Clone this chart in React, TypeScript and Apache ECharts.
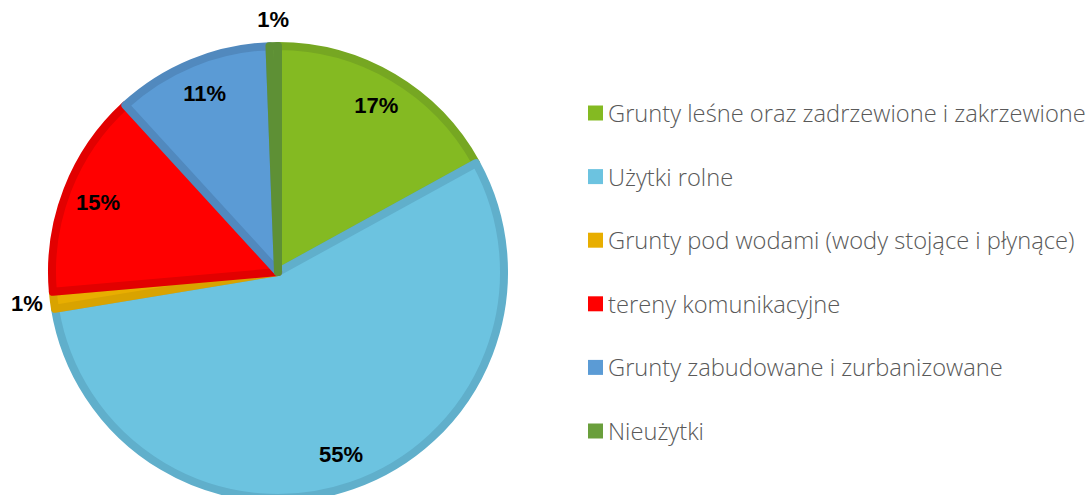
import React, { useEffect, useRef } from "react";
import * as echarts from "echarts";

const categories = [
  "Grunty leśne oraz zadrzewione i zakrzewione",
  "Użytki rolne",
  "Grunty pod wodami (wody stojące i płynące)",
  "tereny komunikacyjne",
  "Grunty zabudowane i zurbanizowane",
  "Nieużytki",
];
const values = [17.0, 55.4, 1.2, 14.6, 11.2, 0.6];
const fillColors = ["#84BA22", "#6CC3E0", "#E8AE00", "#FF0000", "#5B9BD5", "#6A9F3C"];
const borderColors = ["#76A722", "#60AFCB", "#D9A300", "#E20000", "#5189BE", "#5E9035"];

const CX = 278;
const CY = 272;
const R = 230;

export default function App() {
  const ref = useRef<HTMLDivElement>(null);
  useEffect(() => {
    document.body.style.margin = "0";
    const chart = echarts.init(ref.current!, null, { renderer: "svg" });
    const mainData = categories.map((name, i) => ({
      name,
      value: values[i],
      itemStyle: { color: fillColors[i], borderColor: borderColors[i] },
    }));
    const overlayData = categories.map((name, i) => ({
      name,
      value: values[i],
      itemStyle: { color: "rgba(0,0,0,0)", borderWidth: 0 },
    }));
    const labelStyle = {
      color: "#000",
      fontFamily: "Liberation Sans, Arial, sans-serif",
      fontWeight: "bold" as const,
      fontSize: 22,
    };
    chart.setOption({
      animation: false,
      legend: {
        orient: "vertical",
        left: 588,
        top: 99.5,
        padding: 0,
        itemWidth: 15,
        itemHeight: 15,
        itemGap: 36.6,
        icon: "rect",
        data: categories,
        selectedMode: false,
        itemStyle: { borderWidth: 0 },
        textStyle: {
          color: "#595959",
          fontFamily: "Open Sans, sans-serif",
          fontWeight: 300,
          fontSize: 23.7,
          lineHeight: 27,
        },
      },
      series: [
        {
          type: "pie",
          center: [CX, CY],
          radius: [0, R - 4],
          startAngle: 90,
          clockwise: true,
          silent: true,
          itemStyle: { borderWidth: 8, borderJoin: "round" },
          label: { show: false },
          labelLine: { show: false },
          data: mainData,
        },
        {
          type: "pie",
          center: [CX, CY],
          radius: [150, R],
          startAngle: 90,
          clockwise: true,
          silent: true,
          label: {
            show: true,
            position: "inside",
            ...labelStyle,
            formatter: (p: any) => (p.value >= 5 ? `${Math.round(p.percent)}%` : ""),
          },
          labelLine: { show: false },
          data: overlayData,
        },
        {
          type: "pie",
          center: [CX, CY],
          radius: [R, 270],
          startAngle: 90,
          clockwise: true,
          silent: true,
          label: {
            show: true,
            position: "inside",
            ...labelStyle,
            formatter: (p: any) => (p.value < 5 ? `${Math.round(p.percent)}%` : ""),
          },
          labelLine: { show: false },
          data: overlayData,
        },
      ],
    });
    return () => chart.dispose();
  }, []);
  return <div ref={ref} style={{ width: 1091, height: 495 }} />;
}
